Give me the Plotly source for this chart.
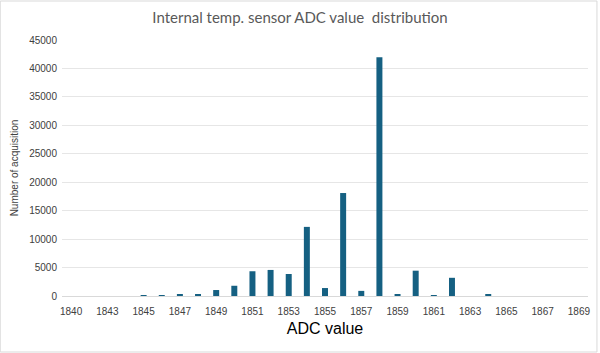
import plotly.graph_objects as go

adc_values = [1840, 1841] + list(range(1843, 1870))
counts = [0, 0, 0, 0, 100, 100, 200, 200, 1050, 1800, 4350, 4580, 3870, 12150,
          1400, 18100, 900, 41950, 250, 4450, 100, 3200, 0, 300, 0, 0, 0, 0, 0]
categories = [str(v) for v in adc_values]
tick_labels = categories[::2]
y_ticks = list(range(0, 45001, 5000))
y_tick_text = [str(v) for v in y_ticks]

fig = go.Figure(go.Bar(x=categories, y=counts, marker_color="#156082", marker_line_width=0))

fig.update_layout(
    width=600, height=353,
    margin=dict(l=62, r=10, t=40, b=57),
    paper_bgcolor="white", plot_bgcolor="white",
    bargap=0.67,
    font=dict(family="Liberation Sans, Arial", size=10, color="#595959"),
    title=dict(text="Internal temp. sensor ADC value  distribution",
               x=0.5, xanchor="center", y=0.95, yanchor="middle",
               font=dict(family="Lato, Liberation Sans", size=15, color="#595959")),
    showlegend=False,
)
fig.update_xaxes(type="category", categoryorder="array", categoryarray=categories,
                 tickmode="array", tickvals=tick_labels, ticktext=tick_labels,
                 showgrid=False, showline=True, linecolor="#d9d9d9", linewidth=1,
                 ticks="", ticklabelstandoff=6, tickfont=dict(size=10, color="#404040"),
                 title=dict(text="ADC value", font=dict(size=16, color="#000000"), standoff=6))
fig.update_yaxes(range=[0, 45000], tickmode="array", tickvals=y_ticks, ticktext=y_tick_text,
                 showgrid=True, gridcolor="#e6e6e6",
                 zeroline=False, showline=False, ticks="", ticklabelstandoff=4,
                 tickfont=dict(size=10, color="#404040"),
                 title=dict(text="Number of acquisition", font=dict(size=10, color="#404040"), standoff=8))

fig.add_shape(type="rect", xref="paper", yref="paper",
              x0=-62/528, x1=1 + 9/528, y0=-56/256, y1=1 + 39/256,
              line=dict(color="#d9d9d9", width=1), fillcolor="rgba(0,0,0,0)", layer="below")

fig.write_html("out.html")
